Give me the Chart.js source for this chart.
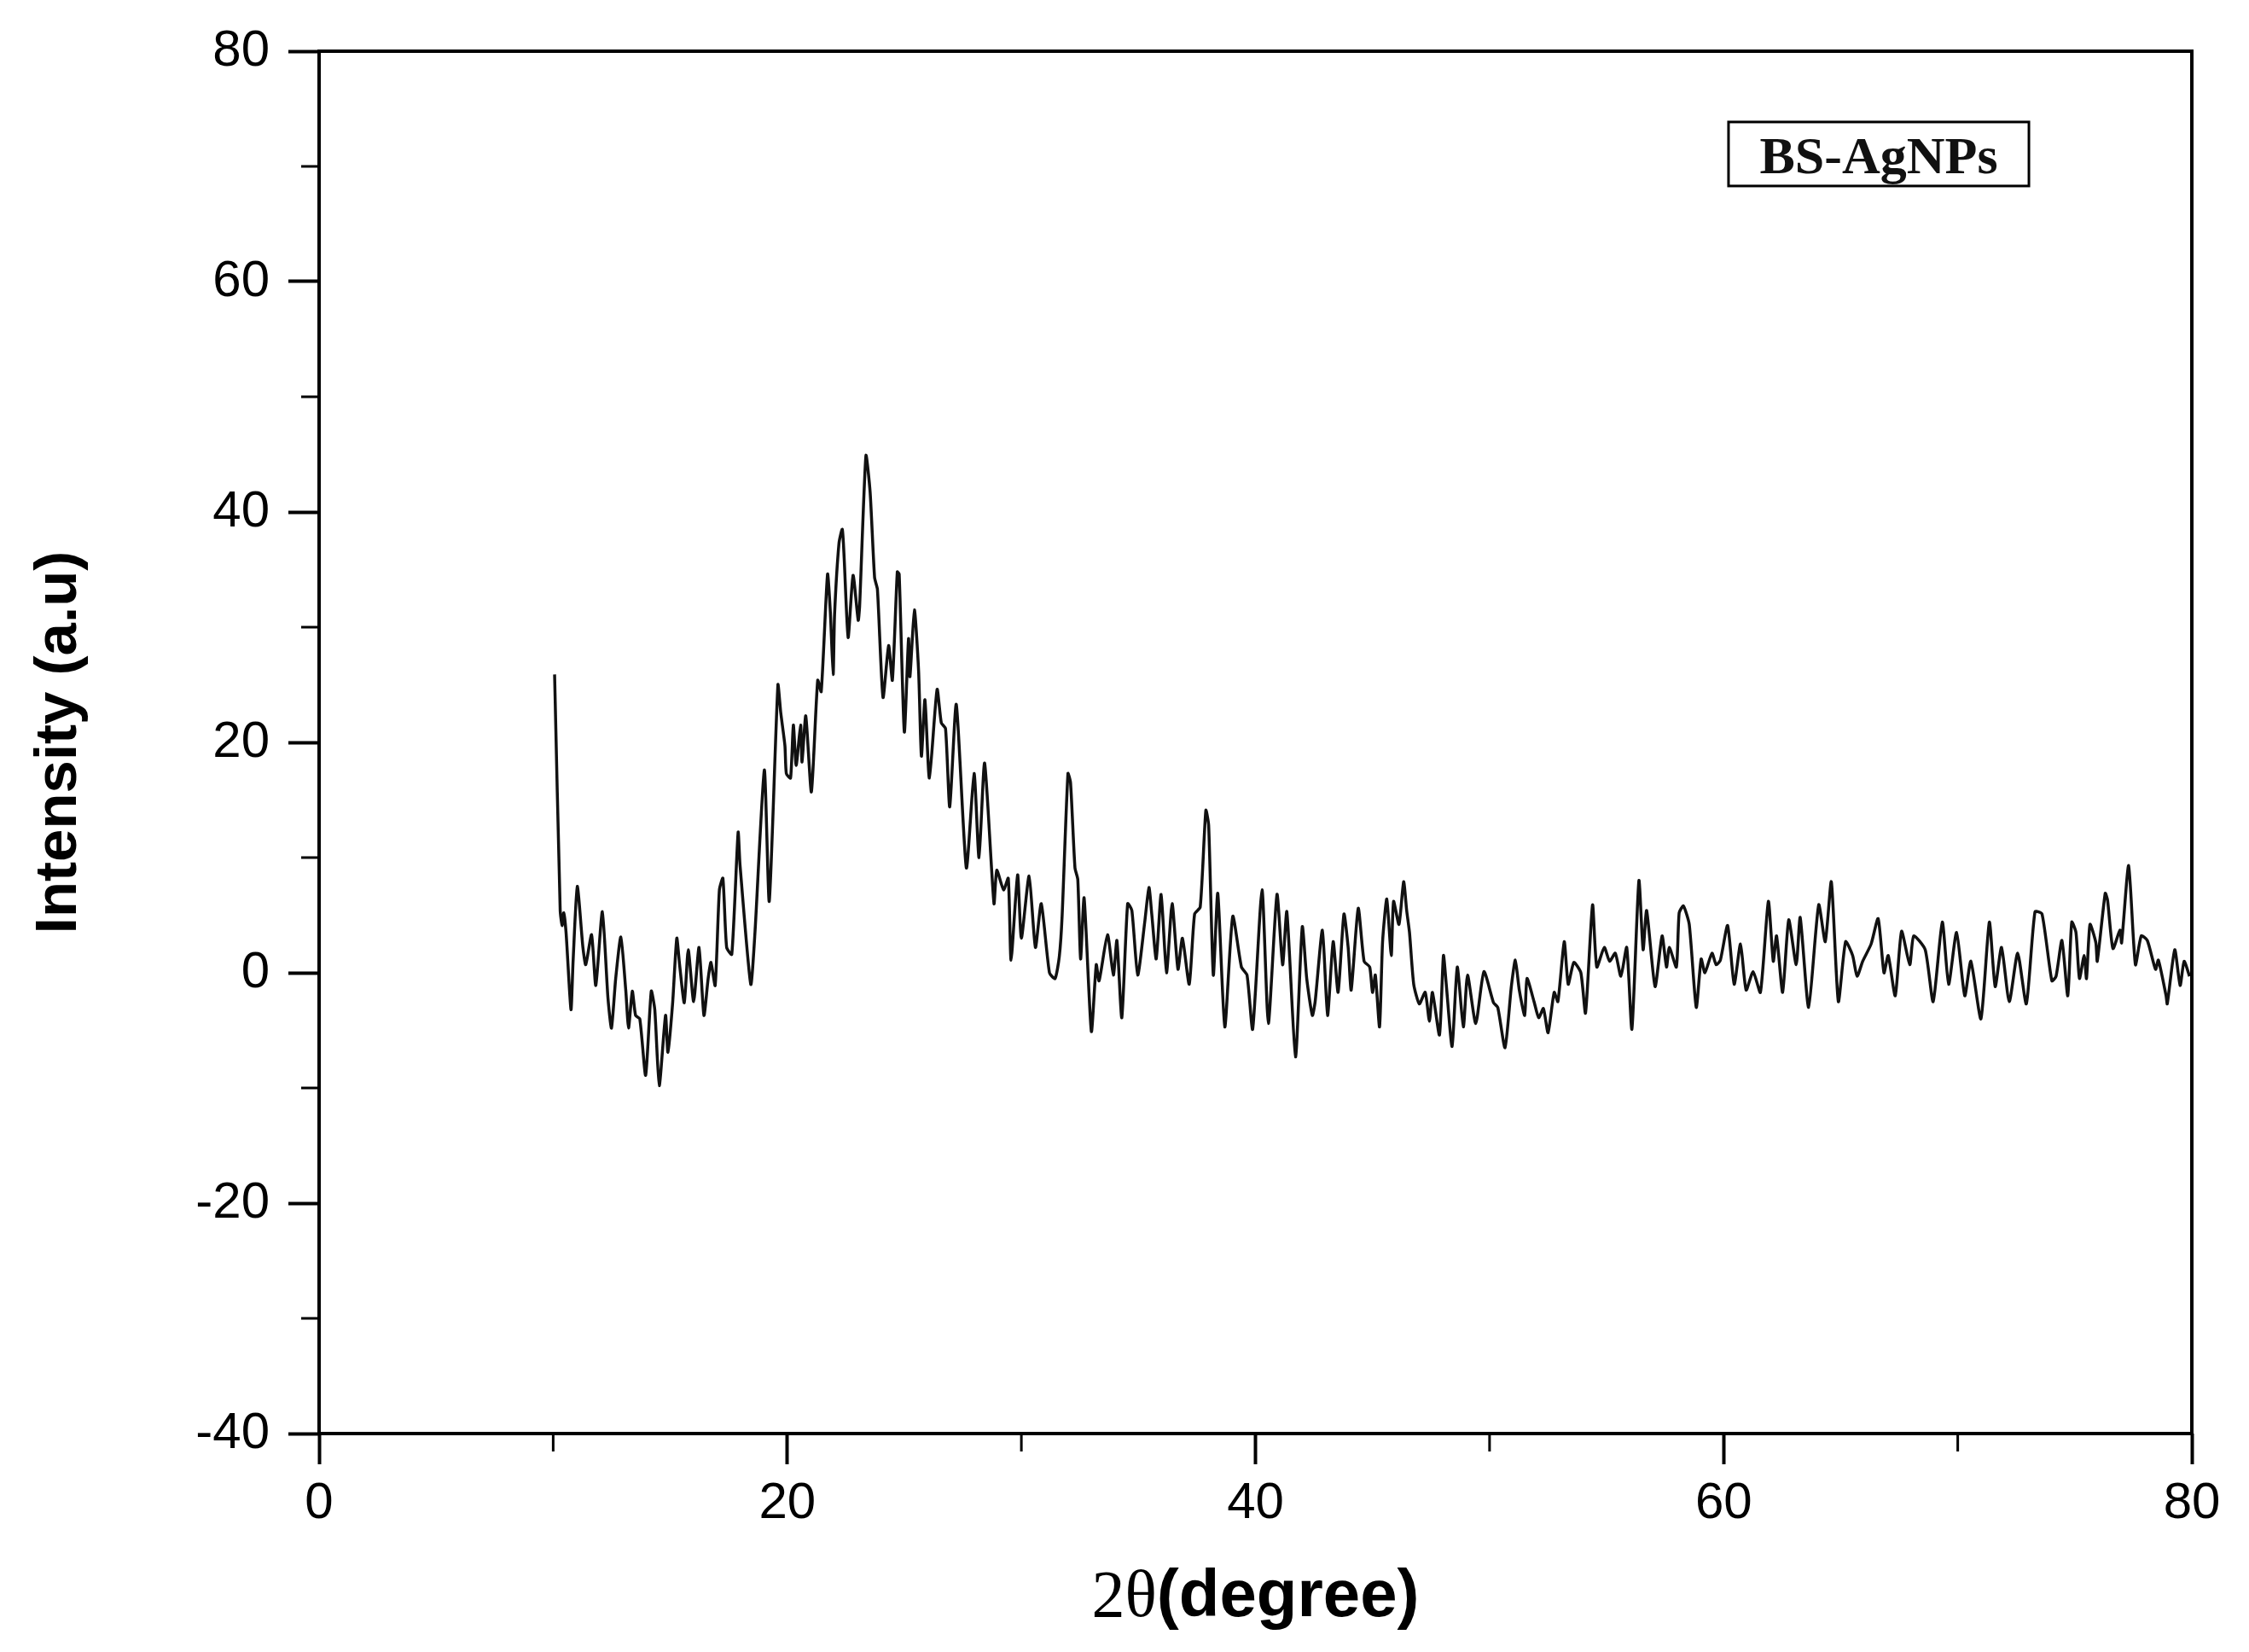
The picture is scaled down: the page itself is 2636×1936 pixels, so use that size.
<!DOCTYPE html>
<html>
<head>
<meta charset="utf-8">
<script src="https://cdn.jsdelivr.net/npm/chart.js@4.4.1/dist/chart.umd.min.js"></script>
<style>
  html, body { margin: 0; padding: 0; background: #fff; }
  #wrap { width: 2636px; height: 1936px; }
</style>
</head>
<body>
<div id="wrap"><canvas id="xrdChart" width="2636" height="1936"></canvas></div>
<script>
// XRD pattern, values (2theta in degrees, intensity a.u)
const twoTheta = [
  10.06, 10.3, 10.38, 10.45, 10.55, 10.76, 10.85, 11.03, 11.27, 11.39,
  11.64, 11.82, 12.1, 12.34, 12.49, 12.67, 12.89, 13.1, 13.22, 13.38,
  13.52, 13.7, 13.95, 14.19, 14.34, 14.53, 14.8, 14.9, 15.1, 15.28,
  15.4, 15.6, 15.77, 16.0, 16.23, 16.44, 16.62, 16.74, 16.92, 17.1,
  17.25, 17.41, 17.63, 17.9, 17.98, 18.44, 18.62, 19.02, 19.23, 19.6,
  19.72, 19.9, 19.96, 20.14, 20.26, 20.38, 20.57, 20.63, 20.79, 21.03,
  21.3, 21.45, 21.72, 21.84, 21.96, 22.02, 22.21, 22.35, 22.43, 22.6,
  22.81, 23.03, 23.09, 23.36, 23.54, 23.73, 23.85, 24.09, 24.33, 24.49,
  24.7, 24.78, 25.0, 25.18, 25.24, 25.43, 25.61, 25.73, 25.88, 26.07,
  26.4, 26.58, 26.76, 26.94, 27.22, 27.65, 27.98, 28.19, 28.43, 28.83,
  28.95, 29.24, 29.44, 29.56, 29.84, 30.0, 30.33, 30.6, 30.85, 31.2,
  31.44, 31.62, 31.74, 31.99, 32.1, 32.29, 32.41, 32.53, 32.68, 32.99,
  33.2, 33.32, 33.68, 33.93, 34.08, 34.29, 34.54, 34.72, 34.97, 35.27,
  35.45, 35.57, 35.76, 35.97, 36.2, 36.44, 36.69, 36.88, 37.17, 37.4,
  37.64, 37.88, 38.0, 38.2, 38.39, 38.69, 39.03, 39.4, 39.64, 39.88,
  40.28, 40.55, 40.92, 41.16, 41.34, 41.71, 42.0, 42.19, 42.43, 42.55,
  42.86, 43.08, 43.32, 43.53, 43.78, 43.96, 44.09, 44.39, 44.64, 44.88,
  45.0, 45.12, 45.3, 45.43, 45.61, 45.8, 45.9, 46.13, 46.33, 46.46,
  46.58, 46.76, 47.0, 47.25, 47.43, 47.56, 47.86, 48.03, 48.15, 48.4,
  48.62, 48.88, 49.06, 49.41, 49.76, 50.17, 50.35, 50.66, 50.93, 51.1,
  51.27, 51.5, 51.6, 51.9, 52.1, 52.3, 52.5, 52.76, 52.92, 53.19,
  53.36, 53.6, 53.9, 54.1, 54.4, 54.58, 54.9, 55.13, 55.37, 55.61,
  55.86, 56.08, 56.38, 56.56, 56.71, 57.07, 57.37, 57.56, 57.68, 57.98,
  58.1, 58.28, 58.53, 58.83, 59.04, 59.2, 59.5, 59.68, 59.86, 60.17,
  60.45, 60.72, 60.96, 61.26, 61.57, 61.91, 62.12, 62.26, 62.52, 62.78,
  63.1, 63.27, 63.63, 64.06, 64.34, 64.6, 64.9, 65.21, 65.51, 65.7,
  65.94, 66.3, 66.6, 66.85, 67.03, 67.33, 67.6, 67.95, 68.12, 68.61,
  68.95, 69.34, 69.61, 69.95, 70.3, 70.56, 70.99, 71.35, 71.6, 71.87,
  72.2, 72.56, 72.93, 73.3, 73.6, 74.02, 74.2, 74.45, 74.7, 74.87,
  75.05, 75.2, 75.4, 75.5, 75.65, 75.9, 75.96, 76.3, 76.4, 76.63,
  76.93, 77.0, 77.3, 77.59, 77.84, 78.1, 78.45, 78.57, 78.9, 78.95,
  79.27, 79.5, 79.67, 79.9
];
const intensity = [
  25.9, 5.4, 4.1, 5.2, 3.5, -3.2, 1.0, 7.5, 2.2, 0.7,
  3.3, -1.1, 5.3, -2.2, -4.8, -0.5, 3.1, -1.5, -4.8, -1.6,
  -3.7, -4.0, -8.9, -1.6, -3.2, -9.8, -3.7, -6.9, -2.7, 3.0,
  0.7, -2.6, 2.0, -2.5, 2.2, -3.7, -0.5, 0.9, -1.1, 7.2,
  8.2, 2.2, 1.6, 12.2, 9.4, -1.0, 3.5, 17.6, 6.2, 25.0,
  22.6, 19.7, 17.3, 16.9, 21.5, 18.0, 21.5, 18.3, 22.3, 15.7,
  25.4, 24.4, 34.6, 31.3, 25.9, 31.1, 37.3, 38.5, 36.0, 29.1,
  34.5, 30.6, 31.8, 44.9, 41.7, 34.3, 33.3, 23.9, 28.4, 25.4,
  34.8, 34.6, 20.9, 29.0, 25.7, 31.5, 26.2, 18.8, 23.7, 16.9,
  24.6, 21.7, 21.2, 14.4, 23.3, 9.1, 17.3, 10.0, 18.2, 6.0,
  8.9, 7.2, 8.2, 1.1, 8.5, 3.0, 8.4, 2.2, 6.0, 0.0,
  -0.5, 1.4, 4.9, 17.3, 16.5, 9.1, 8.1, 1.2, 6.5, -5.1,
  0.7, -0.7, 3.3, -0.2, 2.8, -3.9, 6.0, 5.4, -0.2, 4.4,
  7.4, 5.1, 1.2, 6.8, 0.0, 6.0, 0.3, 3.0, -1.0, 5.1,
  5.7, 14.1, 12.8, -0.2, 6.9, -4.7, 4.9, 0.5, -0.2, -4.9,
  7.2, -4.4, 6.8, 0.7, 5.3, -7.3, 4.0, -0.5, -3.7, -2.5,
  3.7, -3.7, 2.7, -1.7, 5.1, 2.2, -1.5, 5.6, 1.0, 0.5,
  -1.7, -0.2, -4.7, 2.7, 6.4, 1.5, 6.2, 4.2, 7.9, 5.4,
  3.5, -1.0, -2.7, -1.7, -4.2, -1.7, -5.4, 1.5, -1.0, -6.4,
  0.5, -4.7, -0.2, -4.4, 0.1, -2.6, -3.0, -6.5, -1.2, 1.1,
  -1.5, -3.7, -0.5, -2.5, -3.9, -3.1, -5.2, -1.7, -2.5, 2.7,
  -1.0, 0.9, 0.0, -3.5, 5.9, 0.5, 2.2, 1.0, 1.7, -0.3,
  2.2, -4.9, 8.0, 2.0, 5.4, -1.2, 3.2, 0.5, 2.2, 0.5,
  5.2, 5.8, 4.2, -3.0, 1.2, 0.0, 1.7, 0.7, 1.1, 4.1,
  -1.0, 2.5, -1.5, 0.1, -1.7, 6.2, 1.0, 3.2, -1.7, 4.6,
  0.7, 4.8, -3.0, 5.9, 2.7, 7.9, -2.5, 2.7, 1.5, -0.3,
  1.0, 2.5, 4.7, 0.0, 1.5, -2.0, 3.6, 0.7, 3.2, 2.0,
  -2.5, 4.4, -1.0, 3.5, -2.0, 1.0, -4.0, 4.4, -1.2, 2.2,
  -2.5, 1.7, -2.7, 5.3, 5.1, -0.7, -0.3, 2.8, -2.0, 4.4,
  3.5, -0.5, 1.5, -0.5, 4.2, 2.6, 1.0, 6.9, 6.3, 2.1,
  3.7, 2.6, 9.3, 0.7, 3.2, 2.8, 0.3, 1.1, -2.0, -2.7,
  2.0, -1.1, 1.0, -0.3
];

const xTicks = [0, 20, 40, 60, 80];
const xMinorTicks = [10, 30, 50, 70];
const yTicks = [-40, -20, 0, 20, 40, 60, 80];
const yMinorTicks = [-30, -10, 10, 30, 50, 70];
const sampleLabel = "BS-AgNPs";

const points = twoTheta.map((t, i) => ({ x: t, y: intensity[i] }));

// frame, minor ticks, sample box and mixed-font x title
const decorations = {
    id: "decorations",
    afterDraw(chart) {
        const { ctx, chartArea: a, scales } = chart;
        const w = a.right - a.left;
        const h = a.bottom - a.top;
        ctx.save();
        ctx.strokeStyle = "#000";
        ctx.lineWidth = 4;
        ctx.strokeRect(a.left, a.top, w, h);

        ctx.lineWidth = 3;
        ctx.beginPath();
        xMinorTicks.forEach((v) => {
            const px = scales.x.getPixelForValue(v);
            ctx.moveTo(px, a.bottom);
            ctx.lineTo(px, a.bottom + 21);
        });
        yMinorTicks.forEach((v) => {
            const py = scales.y.getPixelForValue(v);
            ctx.moveTo(a.left, py);
            ctx.lineTo(a.left - 21, py);
        });
        ctx.stroke();

        // sample label box
        const bx = a.left + 0.7526 * w;
        const by = a.top + 0.0512 * h;
        const bw = 0.1604 * w;
        const bh = 0.0463 * h;
        ctx.lineWidth = 3;
        ctx.strokeRect(bx, by, bw, bh);
        ctx.fillStyle = "#111";
        ctx.font = "bold 62px 'Liberation Serif', 'Times New Roman', serif";
        ctx.textAlign = "center";
        ctx.textBaseline = "alphabetic";
        ctx.fillText(sampleLabel, bx + bw / 2, by + bh * 0.53 + 20);

        // x axis title: "2θ" in serif, "(degree)" in bold sans
        const serif = "78px 'Liberation Serif', 'Times New Roman', serif";
        const sans = "bold 78px 'Liberation Sans', Arial, sans-serif";
        ctx.font = serif;
        const w1 = ctx.measureText("2θ").width;
        ctx.font = sans;
        const w2 = ctx.measureText("(degree)").width;
        const x0 = (a.left + a.right) / 2 - (w1 + w2) / 2;
        const ty = a.bottom + 214;
        ctx.textAlign = "left";
        ctx.fillStyle = "#000";
        ctx.font = serif;
        ctx.fillText("2θ", x0, ty);
        ctx.font = sans;
        ctx.fillText("(degree)", x0 + w1, ty);
        ctx.restore();
    },
};

var ctx = document.getElementById("xrdChart").getContext("2d");
var xrdChart = new Chart(ctx, {
    type: "line",
    data: {
        datasets: [
            {
                label: sampleLabel,
                data: points,
                borderColor: "#111",
                borderWidth: 3.5,
                pointRadius: 0,
                tension: 0.2,
                fill: false,
            },
        ],
    },
    options: {
        responsive: false,
        animation: false,
        devicePixelRatio: 1,
        layout: { padding: { top: 60, right: 67, bottom: 0, left: 0 } },
        plugins: {
            legend: { display: false },
            tooltip: { enabled: false },
        },
        scales: {
            x: {
                type: "linear",
                min: 0,
                max: 80,
                afterBuildTicks: (scale) => {
                    scale.ticks = xTicks.map((v) => ({ value: v }));
                },
                afterFit: (scale) => {
                    scale.height = 256;
                },
                ticks: {
                    color: "#000",
                    font: { family: "'Liberation Sans', Arial, sans-serif", size: 60 },
                    padding: 10,
                    maxRotation: 0,
                },
                grid: {
                    drawOnChartArea: false,
                    drawTicks: true,
                    tickLength: 36,
                    tickWidth: 4,
                    tickColor: "#000",
                },
                border: { display: false },
                title: { display: false },
            },
            y: {
                type: "linear",
                min: -40,
                max: 80,
                afterBuildTicks: (scale) => {
                    scale.ticks = yTicks.map((v) => ({ value: v }));
                },
                afterFit: (scale) => {
                    scale.width = 374;
                },
                ticks: {
                    color: "#000",
                    font: { family: "'Liberation Sans', Arial, sans-serif", size: 60 },
                    padding: 22,
                },
                grid: {
                    drawOnChartArea: false,
                    drawTicks: true,
                    tickLength: 36,
                    tickWidth: 4,
                    tickColor: "#000",
                },
                border: { display: false },
                title: {
                    display: true,
                    text: "Intensity (a.u)",
                    color: "#000",
                    font: { family: "'Liberation Sans', Arial, sans-serif", size: 69, weight: "bold" },
                    padding: { top: 29, bottom: 0 },
                },
            },
        },
    },
    plugins: [decorations],
});
</script>
</body>
</html>
